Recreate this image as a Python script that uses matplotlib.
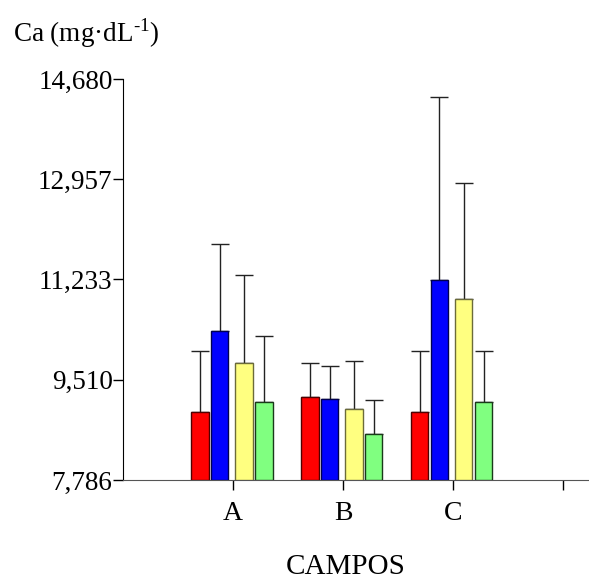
import numpy as np
import matplotlib
matplotlib.use("Agg")
import matplotlib.pyplot as plt

plt.rcParams["font.family"] = ["Liberation Serif", "DejaVu Serif"]
plt.rcParams["mathtext.fontset"] = "custom"
plt.rcParams["mathtext.rm"] = "Liberation Serif"

# Data (Ca in mg/dL)
campos = ["A", "B", "C"]
series_colors = ["#ff0000", "#0000ff", "#ffff80", "#80ff80"]
edge_colors = ["#500000", "#000050", "#6b6b3a", "#1a3a1a"]
means = [
    [8.955, 9.208, 8.960],    # red
    [10.348, 9.173, 11.219],  # blue
    [9.797, 9.001, 10.892],   # yellow
    [9.122, 8.582, 9.127],    # green
]
errors = [
    [1.054, 0.589, 1.044],
    [1.500, 0.578, 3.146],
    [1.508, 0.836, 2.005],
    [1.134, 0.584, 0.877],
]
y_ticks = [7.786, 9.510, 11.233, 12.957, 14.680]
y_tick_labels = ["7,786", "9,510", "11,233", "12,957", "14,680"]

fig = plt.figure(figsize=(5.89, 5.86), dpi=100)
ax = fig.add_axes([123.3 / 589, 106 / 586, 1 - 123.3 / 589, 401 / 586])

x = np.arange(1, len(campos) + 1)
offsets = [-0.302, -0.122, 0.099, 0.280]
width = 0.159

for i in range(4):
    pos = x + offsets[i]
    ax.bar(pos, np.array(means[i]) - y_ticks[0], width, bottom=y_ticks[0],
           color=series_colors[i], edgecolor=edge_colors[i], linewidth=1.0,
           zorder=3)
    ax.errorbar(pos, means[i], yerr=[np.zeros(3), errors[i]], fmt="none",
                ecolor="#222222", elinewidth=1.0, capsize=6.8, capthick=1.0,
                zorder=2)

ax.set_xlim(0, 4.24)
ax.set_ylim(y_ticks[0], y_ticks[-1])
ax.set_xticks([1, 2, 3, 4])
ax.set_xticklabels(campos + [""])
ax.set_yticks(y_ticks)
ax.set_yticklabels(y_tick_labels)

ax.spines["top"].set_visible(False)
ax.spines["right"].set_visible(False)
ax.spines["left"].set_color("black")
ax.spines["bottom"].set_color("#555555")
ax.tick_params(axis="y", direction="out", length=7.2, width=1.0, pad=0.5,
               labelsize=19.5)
ax.tick_params(axis="x", direction="out", length=7.2, width=1.0, pad=8,
               labelsize=20)

fig.text(13 / 589, 1 - 33 / 586, "Ca (mg·dL$^{\\text{-1}}$)",
         fontsize=19.5, ha="left", va="center")
fig.text(346 / 589, 1 - 567 / 586, "CAMPOS", fontsize=21,
         ha="center", va="center")

fig.savefig("out.png", dpi=100)
